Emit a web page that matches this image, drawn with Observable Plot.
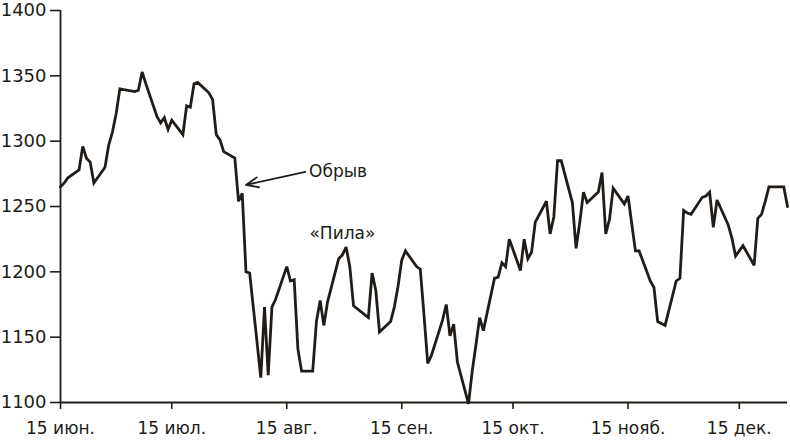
<!DOCTYPE html>
<html>
<head>
<meta charset="utf-8">
<script src="https://cdn.jsdelivr.net/npm/d3@7"></script>
<script src="https://cdn.jsdelivr.net/npm/@observablehq/plot@0.6"></script>
<style>
  body { margin: 0; background: #fff; }
  #chart svg { display: block; }
</style>
</head>
<body>
<div id="chart"></div>
<script>
const dates = [
  "2011-06-15","2011-06-16","2011-06-17","2011-06-20","2011-06-21","2011-06-22","2011-06-23","2011-06-24","2011-06-27","2011-06-28","2011-06-29","2011-06-30",
  "2011-07-01","2011-07-05","2011-07-06","2011-07-07","2011-07-08","2011-07-11","2011-07-12","2011-07-13","2011-07-14","2011-07-15","2011-07-18","2011-07-19","2011-07-20","2011-07-21","2011-07-22","2011-07-25","2011-07-26","2011-07-27","2011-07-28","2011-07-29",
  "2011-08-01","2011-08-02","2011-08-03","2011-08-04","2011-08-05","2011-08-08","2011-08-09","2011-08-10","2011-08-11","2011-08-12","2011-08-15","2011-08-16","2011-08-17","2011-08-18","2011-08-19","2011-08-22","2011-08-23","2011-08-24","2011-08-25","2011-08-26","2011-08-29","2011-08-30","2011-08-31",
  "2011-09-01","2011-09-02","2011-09-06","2011-09-07","2011-09-08","2011-09-09","2011-09-12","2011-09-13","2011-09-14","2011-09-15","2011-09-16","2011-09-19","2011-09-20","2011-09-21","2011-09-22","2011-09-23","2011-09-26","2011-09-27","2011-09-28","2011-09-29","2011-09-30",
  "2011-10-03","2011-10-04","2011-10-05","2011-10-06","2011-10-07","2011-10-10","2011-10-11","2011-10-12","2011-10-13","2011-10-14","2011-10-17","2011-10-18","2011-10-19","2011-10-20","2011-10-21","2011-10-24","2011-10-25","2011-10-26","2011-10-27","2011-10-28","2011-10-31",
  "2011-11-01","2011-11-02","2011-11-03","2011-11-04","2011-11-07","2011-11-08","2011-11-09","2011-11-10","2011-11-11","2011-11-14","2011-11-15","2011-11-16","2011-11-17","2011-11-18","2011-11-21","2011-11-22","2011-11-23","2011-11-25","2011-11-28","2011-11-29","2011-11-30",
  "2011-12-01","2011-12-02","2011-12-05","2011-12-06","2011-12-07","2011-12-08","2011-12-09","2011-12-12","2011-12-13","2011-12-14","2011-12-15","2011-12-16","2011-12-19","2011-12-20","2011-12-21","2011-12-22","2011-12-23","2011-12-27","2011-12-28"
];
const values = [
  1265,1268,1272,1278,1296,1287,1284,1268,1280,1297,1307,1321,
  1340,1338,1339,1353,1344,1319,1314,1318,1309,1316,1305,1327,1326,1344,1345,1337,1332,1305,1301,1292,
  1287,1254,1260,1200,1199,1119,1173,1121,1173,1179,1204,1193,1194,1141,1124,1124,1162,1178,1159,1177,1210,1213,1219,
  1204,1174,1165,1199,1186,1154,1162,1173,1189,1209,1216,1204,1202,1167,1130,1136,1163,1175,1151,1160,1131,
  1099,1124,1144,1165,1155,1195,1196,1207,1204,1225,1201,1225,1210,1215,1238,1254,1229,1242,1285,1285,1253,
  1218,1238,1261,1253,1261,1276,1229,1240,1264,1252,1258,1237,1216,1216,1193,1188,1162,1159,1193,1195,1247,
  1245,1244,1257,1258,1261,1234,1255,1236,1226,1212,1216,1220,1205,1241,1244,1254,1265,1265,1250
];
const yTicks = [1100, 1150, 1200, 1250, 1300, 1350, 1400];
const xTickDates = ["2011-06-15","2011-07-15","2011-08-15","2011-09-15","2011-10-15","2011-11-15","2011-12-15"];
const xTickLabels = ["15 июн.","15 июл.","15 авг.","15 сен.","15 окт.","15 нояб.","15 дек."];
const noteLabels = ["Обрыв", "«Пила»"];
const noteDates = ["2011-08-21", "2011-08-30"];
const noteValues = [1277, 1229];
const noteAnchors = ["start", "middle"];
const arrowFrom = {date: "2011-08-20", value: 1276.5};
const arrowTo = {date: "2011-08-04", value: 1266.5};

const parse = d3.utcParse("%Y-%m-%d");
const data = dates.map((d, i) => ({date: parse(d), value: values[i]}));
const tickDates = xTickDates.map(parse);
const labelOf = new Map(tickDates.map((d, i) => [+d, xTickLabels[i]]));
const notes = noteLabels.map((t, i) => ({text: t, date: parse(noteDates[i]), value: noteValues[i], anchor: noteAnchors[i]}));
const arrows = [{x1: parse(arrowFrom.date), y1: arrowFrom.value, x2: parse(arrowTo.date), y2: arrowTo.value}];

const ink = "#211c17";
const chart = Plot.plot({
  width: 790,
  height: 441,
  marginLeft: 60,
  marginRight: 3,
  marginTop: 10,
  marginBottom: 39,
  style: {fontFamily: "'DejaVu Sans', sans-serif", fontSize: "17px", color: ink, background: "#fff"},
  x: {type: "utc", domain: [data[0].date, data[data.length - 1].date]},
  y: {domain: [1100, 1400]},
  marks: [
    Plot.axisY({ticks: yTicks, tickSize: 10, tickPadding: 4, tickFormat: d => String(d), fontSize: 18, strokeWidth: 1.6, label: null}),
    Plot.axisX({ticks: tickDates, tickSize: 7, tickPadding: 12, tickFormat: d => labelOf.get(+d), fontSize: 17, strokeWidth: 1.6, label: null}),
    Plot.ruleY([1100], {stroke: ink, strokeWidth: 1.8}),
    Plot.ruleX([data[0].date], {stroke: ink, strokeWidth: 1.8}),
    Plot.line(data, {x: "date", y: "value", stroke: ink, strokeWidth: 2.8, strokeLinejoin: "miter", strokeMiterlimit: 3}),
    Plot.arrow(arrows, {x1: "x1", y1: "y1", x2: "x2", y2: "y2", stroke: ink, strokeWidth: 1.8, headLength: 11, headAngle: 45}),
    Plot.text(notes.filter(n => n.anchor === "start"), {x: "date", y: "value", text: "text", textAnchor: "start", fontSize: 17, fill: ink}),
    Plot.text(notes.filter(n => n.anchor === "middle"), {x: "date", y: "value", text: "text", textAnchor: "middle", fontSize: 17, fill: ink})
  ]
});
document.getElementById("chart").append(chart);
</script>
</body>
</html>
